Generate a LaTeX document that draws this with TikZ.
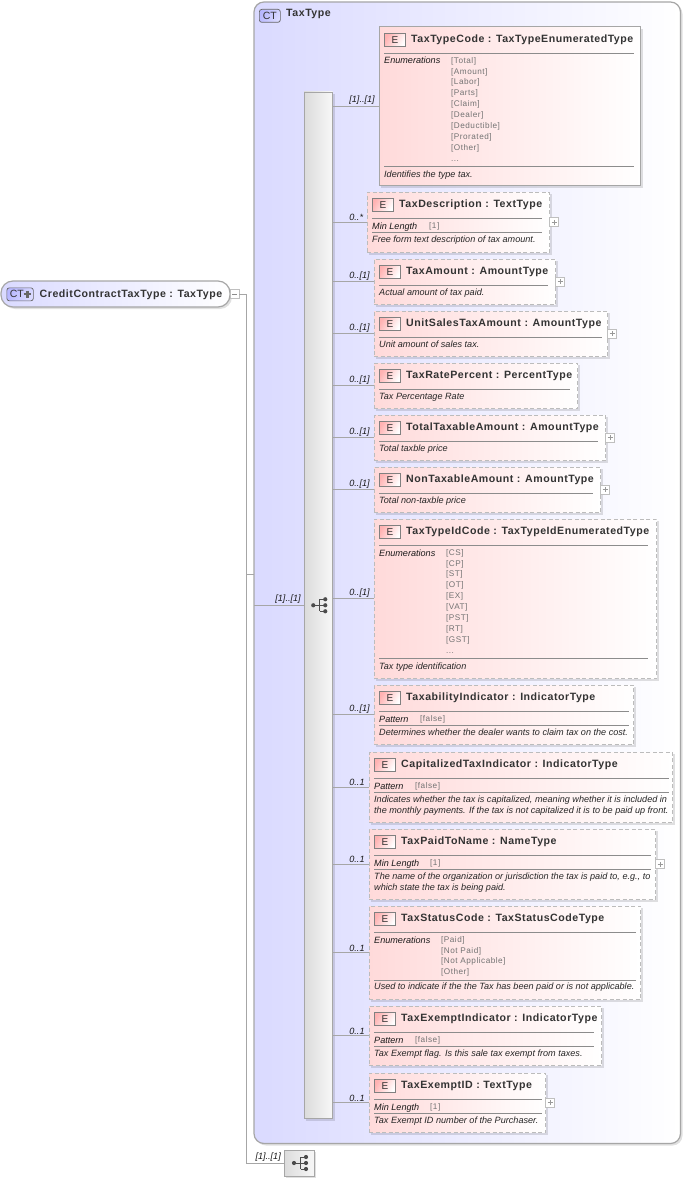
\documentclass[tikz,border=0pt]{standalone}
\usepackage{fontspec}
\setmainfont{Liberation Sans}
\newfontfamily\valuefont[LetterSpace=6]{Liberation Sans}
\newfontfamily\titlefont[LetterSpace=5]{Liberation Sans}
\usepackage{tikz}
\usetikzlibrary{arrows,shadows,positioning}

\definecolor{linegray}{HTML}{A6A6A6}
\definecolor{dashgray}{HTML}{BCBCBC}
\definecolor{rulegray}{HTML}{8C8C8C}
\definecolor{ctblue}{HTML}{DADAFF}
\definecolor{elpink}{HTML}{FFDADA}
\definecolor{inkdark}{HTML}{333333}

\tikzset{
  softshadow/.style={drop shadow={shadow xshift=2pt,shadow yshift=-2pt,fill=black,opacity=.12}},
  conn/.style={draw=linegray,line width=.8pt},
  rulefine/.style={draw=rulegray,line width=.6pt},
  solidbox/.style={draw=linegray,line width=1pt},
  dashbox/.style={draw=dashgray,line width=1pt,dash pattern=on 4pt off 2.5pt},
  elbox/.style={anchor=north west,inner sep=0pt,outer sep=0pt,softshadow,left color=elpink,right color=white},
  elicon/.style={draw=black!50,line width=.7pt,anchor=north west,inner sep=0pt,minimum width=21pt,minimum height=13pt,
    left color=red!30!white,right color=white,shading angle=60,font=\fontsize{10}{10}\selectfont,text=inkdark},
  eltitle/.style={anchor=base west,inner sep=0pt,font=\fontsize{10.6}{12}\selectfont\titlefont\bfseries,text=inkdark},
  facetname/.style={anchor=base west,inner sep=0pt,font=\fontsize{9.1}{10}\selectfont\itshape,text=black!90},
  facetval/.style={anchor=north west,inner sep=0pt,align=left,font=\fontsize{8.2}{10.9}\selectfont\valuefont,text=black!55},
  desctext/.style={anchor=north west,inner sep=0pt,align=left,font=\fontsize{9.1}{10.4}\selectfont\itshape,text=black!85},
  cardlabel/.style={anchor=south west,inner sep=0pt,yshift=1pt,font=\fontsize{9.1}{10}\selectfont\itshape,text=black!90},
  ctbox/.style={anchor=north west,inner sep=0pt,outer sep=0pt,softshadow,draw=linegray,line width=1.2pt,left color=ctblue,right color=white},
  cticon/.style={draw=black!60,line width=.7pt,rounded corners=2.5pt,anchor=north west,inner sep=0pt,minimum height=13pt,
    left color=blue!28!white,right color=ctblue,shading angle=60,font=\fontsize{10.5}{11}\selectfont,text=inkdark},
  seqbox/.style={anchor=north west,inner sep=0pt,outer sep=0pt,softshadow,draw=linegray,line width=.8pt,left color=black!14,right color=black!3},
  togglebox/.style={anchor=west,inner sep=0pt,outer sep=0pt,minimum size=9pt,draw=black!25,line width=.7pt,fill=white},
  seqicon/.pic={
    \draw[black!70,line width=.8pt] (-5,0) -- (1.5,0) (1.5,-6) -- (1.5,6) (1.5,-6) -- (7,-6) (1.5,0) -- (7,0) (1.5,6) -- (7,6);
    \foreach \p in {(-5,0),(7,-6),(7,0),(7,6)} \fill[black!70] \p circle (2.1);
  }
}

\begin{document}
\begin{tikzpicture}[x=1pt,y=-1pt]
  \useasboundingbox (0,0) rectangle (685,1180);

  % complex type with its sequence
  \node[ctbox,rounded corners=10pt,minimum width=426.5pt,minimum height=1141.5pt] (taxtype) at (254,2) {};
  \node[cticon,minimum width=21pt] (taxtypeicon) at (259,9) {CT};
  \node[eltitle] (taxtypetitle) at (286,17) {TaxType};
  \node[seqbox,minimum width=28.5pt,minimum height=1026.5pt] (seqbar) at (304,92) {};
  \pic at (seqbar.center) {seqicon};

  % root
  \node[ctbox,rounded corners=12pt,minimum width=229pt,minimum height=26pt] (root) at (1,281) {};
  \node[cticon,minimum width=26.5pt,text width=24pt,align=left] (rooticon) at (6.5,287.5) {\,CT};
  \draw[black!60,line width=2.2pt] (rooticon.east) ++(-10,0) -- ++(7.5,0) (rooticon.east) ++(-6.25,-3.75) -- ++(0,7.5);
  \node[eltitle] (roottitle) at (39.5,297) {CreditContractTaxType : TaxType};
  \node[togglebox] (rootminus) at (root.east) {};
  \draw[black!45,line width=.6pt] (rootminus.west) ++(2,0) -- ++(5,0);

  % particle at the bottom
  \node[seqbox,minimum width=30pt,minimum height=26pt] (bottomseq) at (284,1150) {};
  \pic at (bottomseq.center) {seqicon};

  \coordinate (trunk) at (246,574);
  \coordinate (trunkend) at (246,1163);
  \draw[conn] (rootminus.east) -| (trunkend) -- node[cardlabel,pos=.24,anchor=south west] {[1]..[1]} (bottomseq.west);
  \draw[conn] (trunk) -- (taxtype.west |- trunk);
  \draw[conn] (taxtype.west |- seqbar.west) -- node[cardlabel,pos=.42,anchor=south west] {[1]..[1]} (seqbar.west);

  % elements
  \foreach \name/\xa/\ya/\xb/\yb/\rl/\card/\kind/\ttl in {
    typecode/379/27/641/186/634/{[1]..[1]}/solidbox/{TaxTypeCode : TaxTypeEnumeratedType},
    description/367/192/550/253/542/{0..*}/dashbox/{TaxDescription : TextType},
    amount/374/259/556/305/548/{0..[1]}/dashbox/{TaxAmount : AmountType},
    unitsales/374/311/608/357/602/{0..[1]}/dashbox/{UnitSalesTaxAmount : AmountType},
    ratepercent/374/363/578/409/570/{0..[1]}/dashbox/{TaxRatePercent : PercentType},
    totaltaxable/374/415/606/461/598/{0..[1]}/dashbox/{TotalTaxableAmount : AmountType},
    nontaxable/374/467/601/513/593/{0..[1]}/dashbox/{NonTaxableAmount : AmountType},
    idcode/374/519/657/679/648/{0..[1]}/dashbox/{TaxTypeIdCode : TaxTypeIdEnumeratedType},
    taxability/374/685/634/745/629/{0..[1]}/dashbox/{TaxabilityIndicator : IndicatorType},
    capitalized/369/752/673/823/669/{0..1}/dashbox/{CapitalizedTaxIndicator : IndicatorType},
    paidto/369/829/656/900/651/{0..1}/dashbox/{TaxPaidToName : NameType},
    statuscode/369/906/641/1000/636/{0..1}/dashbox/{TaxStatusCode : TaxStatusCodeType},
    exemptflag/369/1006/602/1066/594/{0..1}/dashbox/{TaxExemptIndicator : IndicatorType},
    exemptid/369/1073/546/1133/542/{0..1}/dashbox/{TaxExemptID : TextType}} {
    \node[elbox,\kind,minimum width=\xb pt-\xa pt-.5pt,minimum height=\yb pt-\ya pt-.5pt] (\name) at (\xa,\ya) {};
    \node[elicon] (\name icon) at ([shift={(5,6)}]\name.north west) {E};
    \node[eltitle] (\name title) at ([shift={(32,15.5)}]\name.north west) {\ttl};
    \draw[rulefine] ([shift={(5,26)}]\name.north west) -- (\rl,\ya+26);
    \draw[conn] (seqbar.east |- \name.west) -- node[cardlabel,pos=0,xshift=16.5pt] {\card} (\name.west);
  }

  % facets, name then values
  \foreach \name/\lab/\vx/\vy/\vals in {
    typecode/Enumerations/72/30/{{[Total]}\\{[Amount]}\\{[Labor]}\\{[Parts]}\\{[Claim]}\\{[Dealer]}\\{[Deductible]}\\{[Prorated]}\\{[Other]}\\...},
    idcode/Enumerations/72/30/{{[CS]}\\{[CP]}\\{[ST]}\\{[OT]}\\{[EX]}\\{[VAT]}\\{[PST]}\\{[RT]}\\{[GST]}\\...},
    statuscode/Enumerations/72/30/{{[Paid]}\\{[Not Paid]}\\{[Not Applicable]}\\{[Other]}},
    description/Min Length/62/30/{[1]},
    paidto/Min Length/61/30/{[1]},
    exemptid/Min Length/61/30/{[1]},
    taxability/Pattern/46/30/{[false]},
    capitalized/Pattern/46/30/{[false]},
    exemptflag/Pattern/46/30/{[false]}} {
    \node[facetname] (\name facet) at ([shift={(5,37)}]\name.north west) {\lab};
    \node[facetval] (\name vals) at ([shift={(\vx,\vy)}]\name.north west) {\vals};
  }

  % second rule of the boxes with facets
  \foreach \name/\dy/\rl/\ya in {typecode/139/634/27,idcode/139/648/519,statuscode/74/636/906,description/40/542/192,paidto/40/651/829,
    exemptid/40/542/1073,taxability/40/629/685,capitalized/40/669/752,exemptflag/40/594/1006} {
    \draw[rulefine] ([shift={(5,\dy)}]\name.north west) -- (\rl,\ya+\dy);
  }

  % documentation
  \foreach \name/\dy/\txt in {
    typecode/143.5/{Identifies the type tax.},
    description/44/{Free form text description of tax amount.},
    amount/30/{Actual amount of tax paid.},
    unitsales/30/{Unit amount of sales tax.},
    ratepercent/30/{Tax Percentage Rate},
    totaltaxable/30/{Total taxble price},
    nontaxable/30/{Total non-taxble price},
    idcode/143.5/{Tax type identification},
    taxability/44/{Determines whether the dealer wants to claim tax on the cost.},
    capitalized/44/{Indicates whether the tax is capitalized, meaning whether it is included in\\the monthly payments. If the tax is not capitalized it is to be paid up front.},
    paidto/44/{The name of the organization or jurisdiction the tax is paid to, e.g., to\\which state the tax is being paid.},
    statuscode/77/{Used to indicate if the the Tax has been paid or is not applicable.},
    exemptflag/44/{Tax Exempt flag. Is this sale tax exempt from taxes.},
    exemptid/44/{Tax Exempt ID number of the Purchaser.}} {
    \node[desctext] (\name doc) at ([shift={(5,\dy)}]\name.north west) {\txt};
  }

  % expanders
  \foreach \name in {description,amount,unitsales,totaltaxable,nontaxable,paidto,exemptid} {
    \node[togglebox] (\name plus) at ([xshift=0pt]\name.east) {};
    \draw[black!40,line width=.6pt] (\name plus.center) ++(-2.5,0) -- ++(5,0) (\name plus.center) ++(0,-2.5) -- ++(0,5);
  }
\end{tikzpicture}
\end{document}
